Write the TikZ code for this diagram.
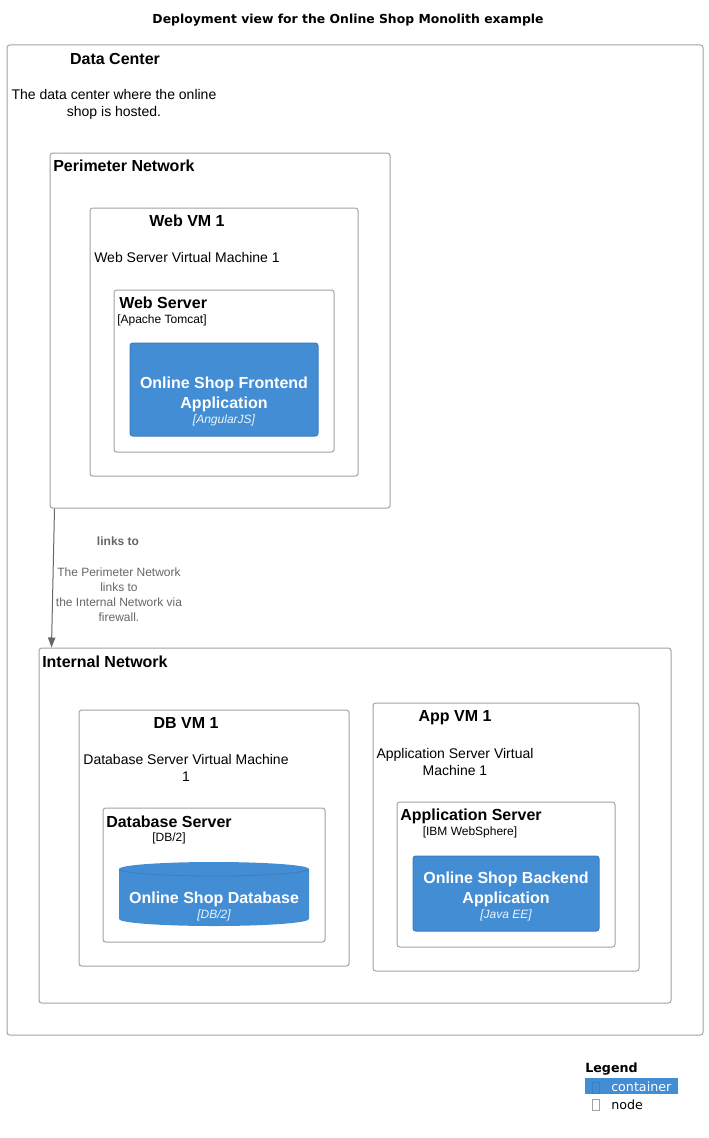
\documentclass[tikz,border=0pt]{standalone}
\usepackage{fontspec}
\setmainfont{Liberation Sans}
\newfontfamily\dejavu{DejaVu Sans}
\usetikzlibrary{arrows.meta,fit,calc}

\definecolor{nodeborde}{HTML}{A2A2A2}
\definecolor{contfondo}{HTML}{438DD5}
\definecolor{contborde}{HTML}{3C7FC0}
\definecolor{enlace}{HTML}{666666}

\tikzset{
    nodebox/.style={draw=nodeborde, line width=0.75pt, rounded corners=2pt, inner sep=0pt},
    contbox/.style={draw=contborde, fill=contfondo, line width=0.75pt, rounded corners=2pt, inner sep=0pt},
    titulo/.style={font=\fontsize{12}{15}\selectfont\bfseries, inner sep=0pt},
    descr/.style={font=\fontsize{10.5}{12.75}\selectfont, align=center, inner sep=0pt},
    tecno/.style={font=\fontsize{9}{11}\selectfont, inner sep=0pt},
    contnombre/.style={font=\fontsize{12}{15}\selectfont\bfseries, text=white, align=center, inner sep=0pt},
    conttecno/.style={font=\fontsize{9}{11}\selectfont\itshape, text=white!90!contfondo, inner sep=0pt},
    enlacetxt/.style={font=\fontsize{9}{11.25}\selectfont, text=enlace, align=center, inner sep=0pt},
    leyenda/.style={font=\dejavu\fontsize{9.5}{11}\selectfont, inner sep=0pt, anchor=west}
}

\begin{document}
\begin{tikzpicture}[x=0.75pt, y=-0.75pt]
    \useasboundingbox (0,0) rectangle (708,1138);

    % Titulo
    \node[font=\dejavu\bfseries\fontsize{9.3}{11}\selectfont, inner sep=0pt] (title) at (348,20.5)
        {Deployment view for the Online Shop Monolith example};

    % Data Center
    \node[nodebox, fit={(7,45) (703,1035)}] (datacenter) {};
    \node[titulo] (datacenter-t) at (115,58.5) {Data Center};
    \node[descr] (datacenter-d) at (114,104.5) {The data center where the online\\shop is hosted.};

    % Perimeter Network
    \node[nodebox, fit={(50,153) (390,508)}] (perimeter) {};
    \node[titulo, anchor=west] (perimeter-t) at (53,165.5) {Perimeter Network};

    \node[nodebox, fit={(90,208) (358,476)}] (webvm) {};
    \node[titulo] (webvm-t) at (187,220.5) {Web VM 1};
    \node[descr] (webvm-d) at (187,257.5) {Web Server Virtual Machine 1};

    \node[nodebox, fit={(114,290) (334,452)}] (webserver) {};
    \node[titulo, anchor=west] (webserver-t) at (119,302.5) {Web Server};
    \node[tecno, anchor=west] (webserver-s) at (117,320.5) {[Apache Tomcat]};

    \node[contbox, fit={(130,343) (318,436)}] (frontend) {};
    \node[contnombre] (frontend-t) at (224,394) {Online Shop Frontend\\Application};
    \node[conttecno] (frontend-s) at (224,420) {[AngularJS]};

    % Internal Network
    \node[nodebox, fit={(39,648) (671,1003)}] (internal) {};
    \node[titulo, anchor=west] (internal-t) at (42,661.5) {Internal Network};

    \node[nodebox, fit={(79,710) (349,966)}] (dbvm) {};
    \node[titulo] (dbvm-t) at (186,722.5) {DB VM 1};
    \node[descr] (dbvm-d) at (186,767.5) {Database Server Virtual Machine\\1};

    \node[nodebox, fit={(103,808) (325,942)}] (dbserver) {};
    \node[titulo, anchor=west] (dbserver-t) at (106,821.5) {Database Server};
    \node[tecno] (dbserver-s) at (169,838.5) {[DB/2]};

    \node[inner sep=0pt, fit={(119,862) (309,926)}] (database) {};
    \fill[contfondo] (119,869) -- (119,919) arc[start angle=180, end angle=0, x radius=95, y radius=7]
        -- (309,869) arc[start angle=0, end angle=-180, x radius=95, y radius=7] -- cycle;
    \draw[contborde, line width=0.6pt] (119,869) arc[start angle=180, end angle=0, x radius=95, y radius=7];
    \node[contnombre] (database-t) at (214,899) {Online Shop Database};
    \node[conttecno] (database-s) at (214,915) {[DB/2]};

    \node[nodebox, fit={(373,703) (639,971)}] (appvm) {};
    \node[titulo] (appvm-t) at (455,717.5) {App VM 1};
    \node[descr] (appvm-d) at (455,762) {Application Server Virtual\\Machine 1};

    \node[nodebox, fit={(397,802) (615,947)}] (appserver) {};
    \node[titulo, anchor=west] (appserver-t) at (400,816) {Application Server};
    \node[tecno] (appserver-s) at (470,832.5) {[IBM WebSphere]};

    \node[contbox, fit={(413,856) (599,931)}] (backend) {};
    \node[contnombre] (backend-t) at (506,889) {Online Shop Backend\\Application};
    \node[conttecno] (backend-s) at (506,915) {[Java EE]};

    % Enlace
    \draw[enlace, line width=0.75pt, -{Triangle[length=7.5pt, width=5.5pt]}]
        ($(perimeter.south west)+(5,0)$) -- ($(internal.north west)+(13,0)$);
    \node[enlacetxt, font=\fontsize{9}{11.25}\selectfont\bfseries] (link-t) at (118,541.5) {links to};
    \node[enlacetxt] (link-d) at (119,595)
        {The Perimeter Network\\links to\\the Internal Network via\\firewall.};

    % Leyenda
    \node[leyenda, font=\dejavu\bfseries\fontsize{9.5}{11}\selectfont] (legend-t) at (585,1069.5) {Legend};
    \node[fill=contfondo, inner sep=0pt, fit={(585,1078) (678,1094)}] (legend-c) {};
    \node[draw=contborde, line width=0.6pt, inner sep=0pt, fit={(592,1082) (599,1093)}] (legend-cb) {};
    \node[leyenda, text=white] (legend-ct) at (611,1087) {container};
    \node[draw=nodeborde, line width=0.6pt, inner sep=0pt, fit={(592,1099) (599,1110)}] (legend-nb) {};
    \node[leyenda] (legend-nt) at (611,1104.5) {node};
\end{tikzpicture}
\end{document}
